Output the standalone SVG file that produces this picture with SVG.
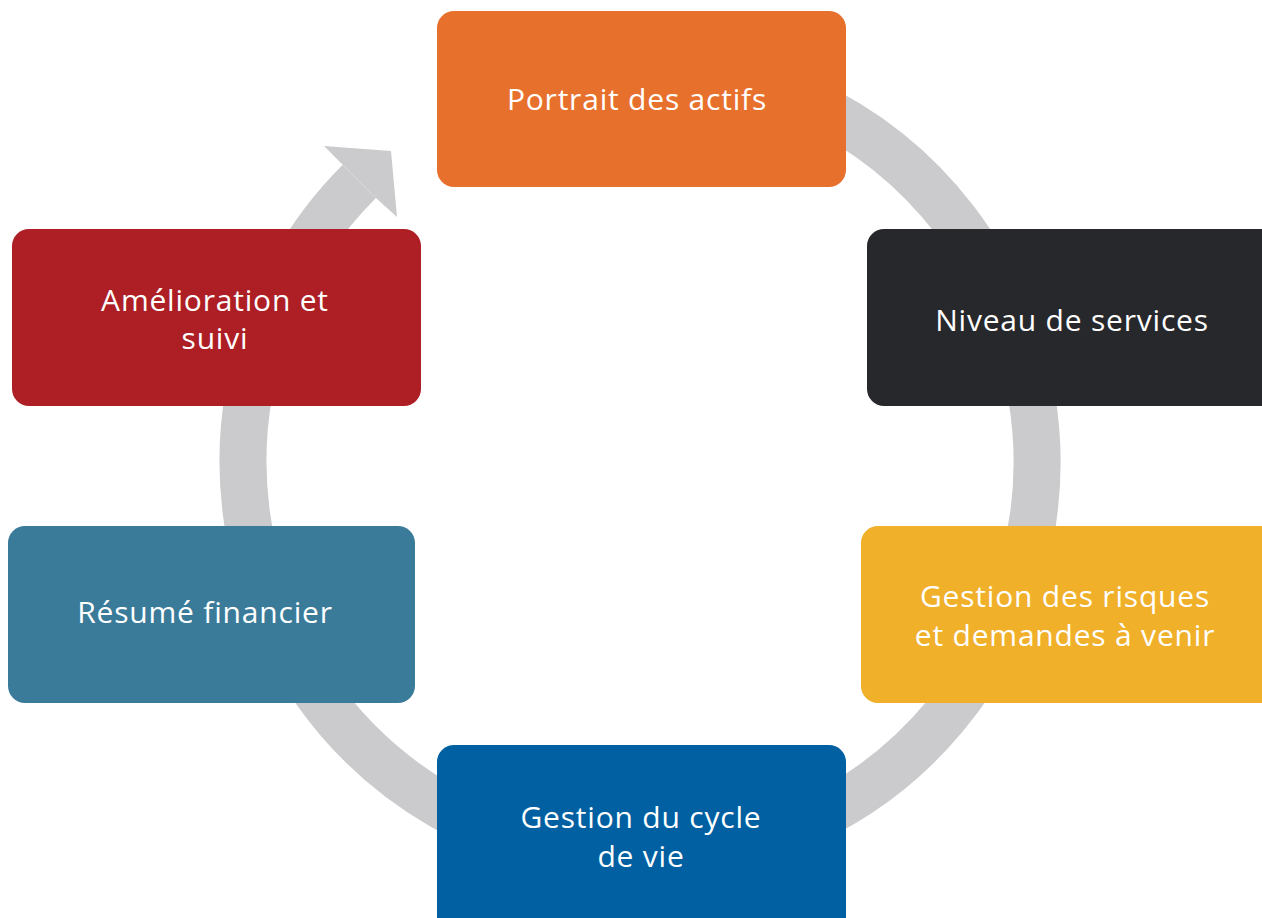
<svg xmlns="http://www.w3.org/2000/svg" width="1262" height="918" viewBox="0 0 1262 918">
<style>
.lbl{font-family:"Open Sans","Noto Sans","Liberation Sans",sans-serif;font-size:30px;letter-spacing:0.8px;fill:#ffffff;text-anchor:middle}
.ring{fill:none;stroke:#CBCBCD;stroke-width:47}
</style>
<rect width="1262" height="918" fill="#ffffff"/>
<g id="connectors">
<path class="ring" d="M640,65 A397,397 0 1 1 359.3,181.3"/>
<polygon points="324,146 391,151 397,217 375.9,197.9 342.7,164.7" fill="#CBCBCD"/>
</g>
<g id="portrait">
<rect x="437" y="11" width="409" height="176" rx="17" fill="#E8702D"/>
<text class="lbl" x="637" y="110">Portrait des actifs</text>
</g>
<g id="niveau">
<rect x="867" y="229" width="420" height="177" rx="17" fill="#27282C"/>
<text class="lbl" x="1072" y="331">Niveau de services</text>
</g>
<g id="gestion-risques">
<rect x="861" y="526" width="426" height="177" rx="17" fill="#F0B02A"/>
<text class="lbl" x="1065" y="607">Gestion des risques</text>
<text class="lbl" x="1065" y="646">et demandes à venir</text>
</g>
<g id="gestion-cycle">
<rect x="437" y="745" width="409" height="190" rx="17" fill="#0060A1"/>
<text class="lbl" x="641" y="828">Gestion du cycle</text>
<text class="lbl" x="641" y="867">de vie</text>
</g>
<g id="resume">
<rect x="8" y="526" width="407" height="177" rx="17" fill="#3A7B9A"/>
<text class="lbl" x="205" y="623">Résumé financier</text>
</g>
<g id="amelioration">
<rect x="12" y="229" width="409" height="177" rx="17" fill="#AD1F25"/>
<text class="lbl" x="215" y="311">Amélioration et</text>
<text class="lbl" x="215" y="349">suivi</text>
</g>
</svg>
